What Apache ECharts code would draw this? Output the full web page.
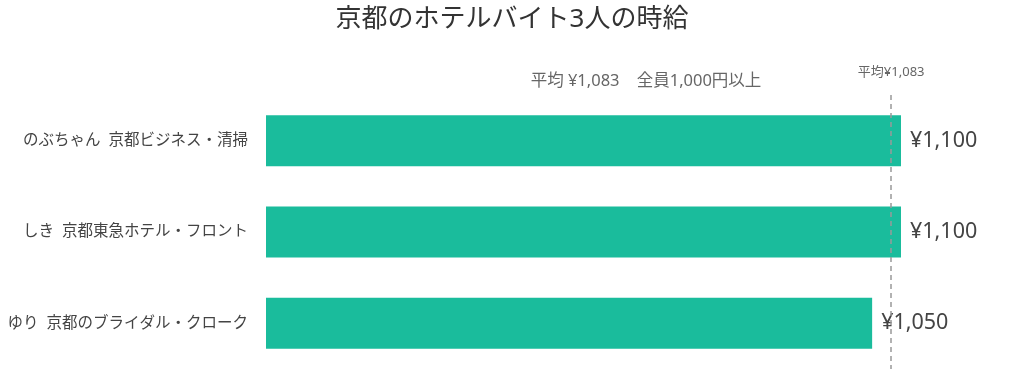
<!DOCTYPE html>
<html>
<head>
<meta charset="utf-8">
<script src="https://cdn.jsdelivr.net/npm/echarts@6/dist/echarts.min.js"></script>
<style>html,body{margin:0;padding:0;background:#fff}#c{width:1024px;height:369px}</style>
</head>
<body>
<div id="c"></div>
<script>
const titleText = '京都のホテルバイト3人の時給';
const subText = '平均 ¥1,083    全員1,000円以上';
const categories = ['のぶちゃん  京都ビジネス・清掃', 'しき  京都東急ホテル・フロント', 'ゆり  京都のブライダル・クローク'];
const wages = [1100, 1100, 1050];
const average = 1083;
const avgLabel = '平均¥1,083';

const FONT = '"Noto Sans", "Noto Sans CJK JP", sans-serif';
const chart = echarts.init(document.getElementById('c'));
chart.setOption({
  animation: false,
  textStyle: { fontFamily: FONT },
  title: [
    { text: titleText, left: 'center', top: 2, textStyle: { fontSize: 26, fontWeight: 'normal', color: '#333', fontFamily: FONT } },
    { text: subText, left: 641, top: 68, textAlign: 'center', textStyle: { fontSize: 16.5, fontWeight: 'normal', color: '#666', fontFamily: FONT } }
  ],
  grid: { left: 266, right: 123, top: 95, bottom: 0, containLabel: false },
  xAxis: { type: 'value', min: 0, max: 1100, show: false },
  yAxis: {
    type: 'category', data: categories, inverse: true,
    axisLine: { show: false }, axisTick: { show: false },
    axisLabel: { fontSize: 15.5, color: '#444', margin: 18, fontFamily: FONT }
  },
  series: [{
    type: 'bar', data: wages, barWidth: 51,
    itemStyle: { color: '#1abc9c' },
    label: { show: true, position: 'right', distance: 9, fontSize: 21.5, color: '#444', fontFamily: FONT,
      formatter: p => '¥' + p.value.toLocaleString('en-US') },
    markLine: {
      symbol: ['none', 'none'], silent: true,
      lineStyle: { type: [5, 4], color: '#999', width: 1.5 },
      label: { show: false },
      data: [{ xAxis: average }]
    }
  }]
});
const avgX = chart.convertToPixel({ xAxisIndex: 0 }, average);
chart.setOption({
  graphic: [{
    type: 'text', x: avgX, y: 72, silent: true,
    style: { text: avgLabel, fontSize: 13, fill: '#666', fontFamily: FONT, align: 'center', verticalAlign: 'middle' }
  }]
});
</script>
</body>
</html>
